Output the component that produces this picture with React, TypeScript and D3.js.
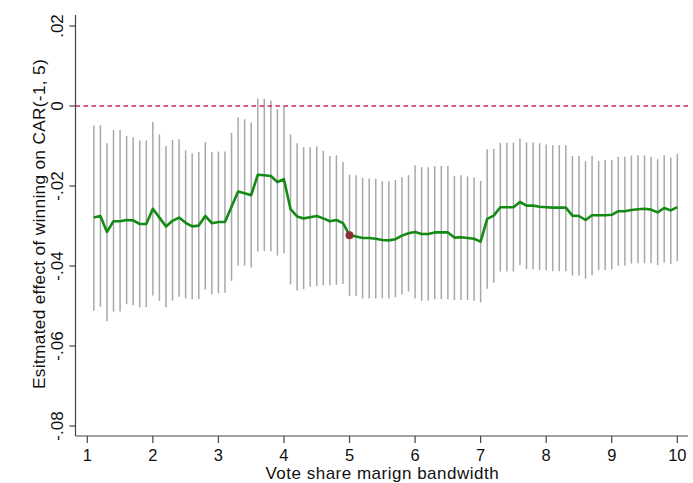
import * as d3 from 'd3'

const bandwidths = [
  1.1, 1.2, 1.3, 1.4, 1.5, 1.6, 1.7, 1.8, 1.9, 2.0,
  2.1, 2.2, 2.3, 2.4, 2.5, 2.6, 2.7, 2.8, 2.9, 3.0,
  3.1, 3.2, 3.3, 3.4, 3.5, 3.6, 3.7, 3.8, 3.9, 4.0,
  4.1, 4.2, 4.3, 4.4, 4.5, 4.6, 4.7, 4.8, 4.9, 5.0,
  5.1, 5.2, 5.3, 5.4, 5.5, 5.6, 5.7, 5.8, 5.9, 6.0,
  6.1, 6.2, 6.3, 6.4, 6.5, 6.6, 6.7, 6.8, 6.9, 7.0,
  7.1, 7.2, 7.3, 7.4, 7.5, 7.6, 7.7, 7.8, 7.9, 8.0,
  8.1, 8.2, 8.3, 8.4, 8.5, 8.6, 8.7, 8.8, 8.9, 9.0,
  9.1, 9.2, 9.3, 9.4, 9.5, 9.6, 9.7, 9.8, 9.9, 10.0,
]

const estimates = [
  -0.0279, -0.0275, -0.0315, -0.0288, -0.0288, -0.0285, -0.0286, -0.0295, -0.0295, -0.0257,
  -0.0279, -0.0301, -0.0287, -0.0279, -0.0292, -0.0301, -0.0299, -0.0275, -0.0293, -0.029,
  -0.029, -0.0252, -0.0214, -0.0218, -0.0223, -0.0172, -0.0173, -0.0175, -0.019, -0.0183,
  -0.0258, -0.0276, -0.0281, -0.0278, -0.0275, -0.0281, -0.0288, -0.0285, -0.0293, -0.0323,
  -0.0326, -0.033, -0.033, -0.0332, -0.0335, -0.0336, -0.0333, -0.0324, -0.0318, -0.0315,
  -0.032, -0.032, -0.0316, -0.0316, -0.0316, -0.0329, -0.0328, -0.033, -0.0332, -0.0339,
  -0.0282, -0.0274, -0.0253, -0.0253, -0.0253, -0.024, -0.0249, -0.0249, -0.0252, -0.0253,
  -0.0254, -0.0254, -0.0254, -0.0274, -0.0275, -0.0285, -0.0273, -0.0273, -0.0273, -0.0272,
  -0.0263, -0.0263, -0.026, -0.0258, -0.0257, -0.0259, -0.0266, -0.0255, -0.0261, -0.0253,
]

const upperBounds = [
  -0.0049, -0.0048, -0.0093, -0.006, -0.006, -0.0075, -0.0078, -0.0086, -0.0086, -0.004,
  -0.0071, -0.01, -0.0085, -0.0083, -0.0111, -0.0118, -0.0115, -0.009, -0.0115, -0.0114,
  -0.0114, -0.0067, -0.0028, -0.0033, -0.0041, 0.0019, 0.0018, 0.0014, -0.0008, 0.0001,
  -0.0071, -0.0093, -0.0103, -0.0103, -0.0101, -0.0112, -0.0125, -0.0123, -0.014, -0.0172,
  -0.0173, -0.018, -0.0181, -0.0182, -0.0188, -0.0188, -0.0185, -0.0178, -0.0173, -0.0148,
  -0.0153, -0.0153, -0.015, -0.015, -0.015, -0.0175, -0.0173, -0.0176, -0.0178, -0.0187,
  -0.0108, -0.0107, -0.0092, -0.0092, -0.0092, -0.0081, -0.0091, -0.0091, -0.0093, -0.0096,
  -0.0098, -0.0098, -0.0098, -0.0125, -0.0125, -0.0138, -0.0125, -0.0137, -0.0135, -0.0135,
  -0.0127, -0.0127, -0.0124, -0.0123, -0.0123, -0.0127, -0.0133, -0.0123, -0.0129, -0.012,
]

const lowerBounds = [
  -0.0512, -0.0502, -0.0538, -0.0514, -0.0514, -0.0495, -0.0498, -0.0503, -0.0503, -0.0474,
  -0.0487, -0.0503, -0.0487, -0.0477, -0.0481, -0.0483, -0.0483, -0.0459, -0.0471, -0.0468,
  -0.0467, -0.0437, -0.0399, -0.0399, -0.0404, -0.0364, -0.0363, -0.0364, -0.0374, -0.0368,
  -0.0446, -0.0461, -0.0458, -0.0452, -0.045, -0.0448, -0.0448, -0.0447, -0.0445, -0.0475,
  -0.0475, -0.0481, -0.0481, -0.0481, -0.0481, -0.0481, -0.0478, -0.0471, -0.0464, -0.0481,
  -0.0487, -0.0487, -0.0483, -0.0483, -0.0483, -0.0485, -0.0485, -0.0485, -0.0487, -0.0491,
  -0.0457, -0.0442, -0.0414, -0.0414, -0.0414, -0.0398, -0.0408, -0.0408, -0.041, -0.0411,
  -0.0413, -0.0413, -0.0413, -0.0424, -0.0424, -0.0432, -0.0423, -0.041, -0.041, -0.0408,
  -0.0399, -0.0399, -0.0394, -0.0393, -0.0393, -0.0393, -0.0398, -0.0391, -0.0395, -0.0388,
]

const xTickValues = [1, 2, 3, 4, 5, 6, 7, 8, 9, 10]
const yTickValues = [0.02, 0, -0.02, -0.04, -0.06, -0.08]
const yTickLabels = ['.02', '0', '-.02', '-.04', '-.06', '-.08']
const highlightBandwidth = 5

const font = 'Arial, "Liberation Sans", Helvetica, sans-serif'

export default function App() {
  const width = 693
  const height = 483
  const spineX = 75.5
  const spineTop = 15
  const axisY = 436
  const axisRight = 688

  const x = d3.scaleLinear().domain([1, 10]).range([87.3, 677.3])
  const y = d3.scaleLinear().domain([-0.08, 0.02]).range([426, 26])

  const points = bandwidths.map((b, i) => ({
    b,
    est: estimates[i],
    lo: lowerBounds[i],
    hi: upperBounds[i],
  }))
  const line = d3
    .line<(typeof points)[number]>()
    .x((p) => x(p.b))
    .y((p) => y(p.est))
  const highlight = points.find((p) => Math.abs(p.b - highlightBandwidth) < 1e-6)

  return (
    <div style={{ position: 'absolute', left: 0, top: 0, background: '#fff' }}>
      <svg width={width} height={height} viewBox={`0 0 ${width} ${height}`} style={{ display: 'block' }}>
        <rect width={width} height={height} fill="#fff" />

        {points.map((p) => (
          <line
            key={`ci-${p.b}`}
            x1={x(p.b)}
            x2={x(p.b)}
            y1={y(p.hi)}
            y2={y(p.lo)}
            stroke="#a8a8a8"
            strokeWidth="1.5"
          />
        ))}

        <line
          x1={spineX}
          x2={axisRight}
          y1={y(0)}
          y2={y(0)}
          stroke="#d7264f"
          strokeWidth="1.5"
          strokeDasharray="4.5 3.5"
        />

        <path d={line(points) ?? ''} fill="none" stroke="#138a13" strokeWidth="2.6" strokeLinejoin="round" />

        {highlight && <circle cx={x(highlight.b)} cy={y(highlight.est)} r="4" fill="#8e2d34" />}

        {/* y axis */}
        <line x1={spineX} x2={spineX} y1={spineTop} y2={axisY} stroke="#444" strokeWidth="1.2" />
        {yTickValues.map((t, i) => (
          <g key={`yt-${t}`} transform={`translate(0,${y(t)})`}>
            <line x1={spineX - 6} x2={spineX} y1={0} y2={0} stroke="#444" strokeWidth="1.2" />
            <text
              transform={`translate(62.5,0) rotate(-90)`}
              textAnchor="middle"
              fontSize="17"
              fontFamily={font}
              fill="#111"
            >
              {yTickLabels[i]}
            </text>
          </g>
        ))}
        <text
          transform={`translate(45,224) rotate(-90)`}
          textAnchor="middle"
          fontSize="17.3"
          letterSpacing="0.3"
          fontFamily={font}
          fill="#111"
        >
          Esitmated effect of winning on CAR(-1, 5)
        </text>

        {/* x axis */}
        <line x1={spineX} x2={axisRight} y1={axisY} y2={axisY} stroke="#444" strokeWidth="1.2" />
        {xTickValues.map((t) => (
          <g key={`xt-${t}`} transform={`translate(${x(t)},0)`}>
            <line x1={0} x2={0} y1={axisY} y2={axisY + 7} stroke="#444" strokeWidth="1.2" />
            <text y={460.5} textAnchor="middle" fontSize="16.5" fontFamily={font} fill="#111">
              {t}
            </text>
          </g>
        ))}
        <text
          x={x(5.5)}
          y={479}
          textAnchor="middle"
          fontSize="17"
          letterSpacing="0.5"
          fontFamily={font}
          fill="#111"
        >
          Vote share marign bandwidth
        </text>
      </svg>
    </div>
  )
}
